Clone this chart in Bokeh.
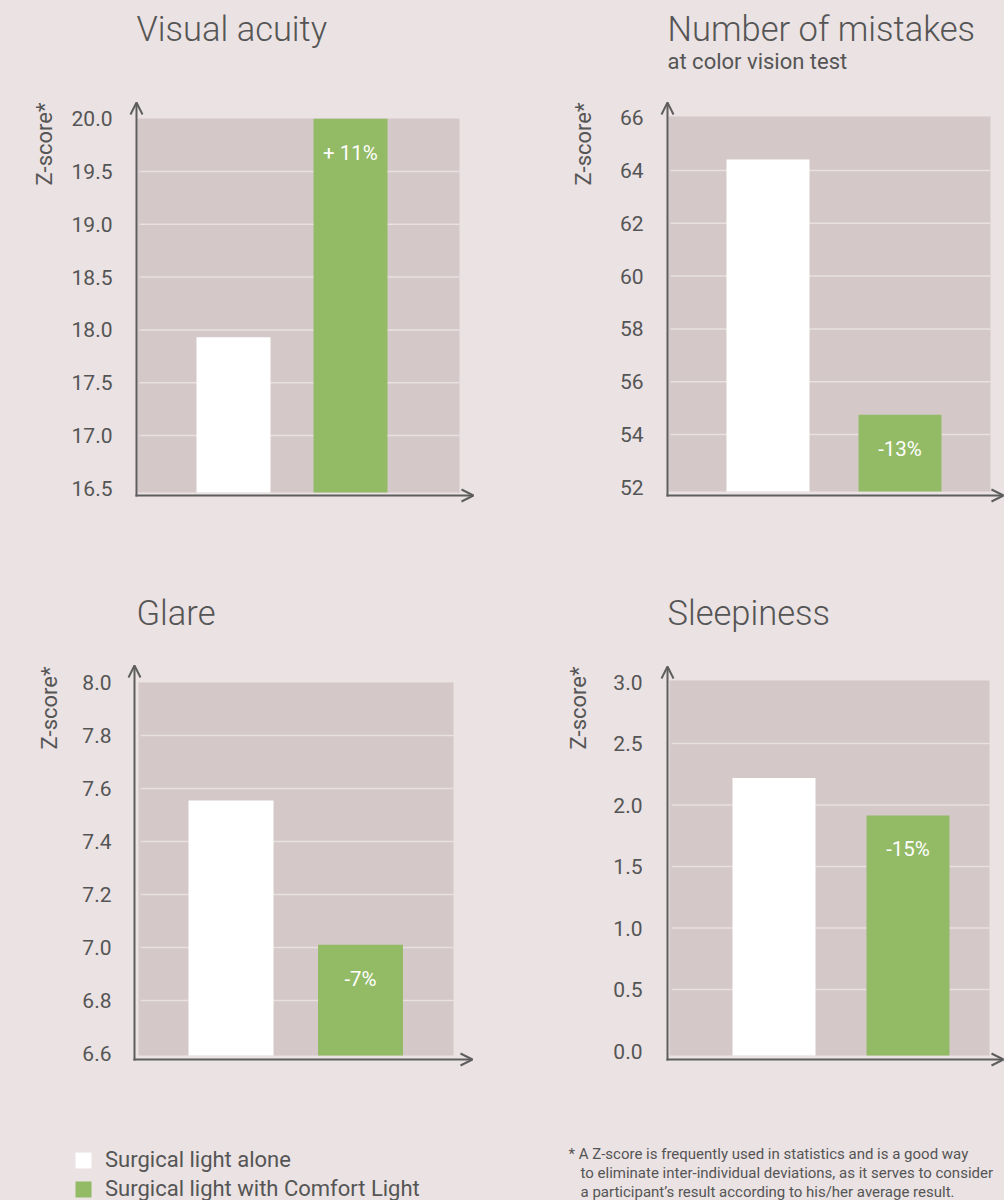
import math
from bokeh.plotting import figure
from bokeh.models import Range1d, LinearAxis, FixedTicker, Arrow, OpenHead, Legend, LegendItem
from bokeh.layouts import column, row
from bokeh.core.properties import value
from bokeh.embed import file_html
from bokeh.resources import INLINE

# ---------------- data ----------------
titles = ["Visual acuity", "Number of mistakes", "Glare", "Sleepiness"]
subtitles = ["", "at color vision test", "", ""]
series_names = ["Surgical light alone", "Surgical light with Comfort Light"]
group_pos = [1, 2]
alone = [17.93, 64.42, 7.555, 2.22]
comfort = [20.0, 54.75, 7.01, 1.915]
change_labels = ["+ 11%", "-13%", "-7%", "-15%"]

ticks_visual = [16.5, 17.0, 17.5, 18.0, 18.5, 19.0, 19.5, 20.0]
labels_visual = ["16.5", "17.0", "17.5", "18.0", "18.5", "19.0", "19.5", "20.0"]
ticks_mistakes = [52, 54, 56, 58, 60, 62, 64, 66]
labels_mistakes = ["52", "54", "56", "58", "60", "62", "64", "66"]
ticks_glare = [6.6, 6.8, 7.0, 7.2, 7.4, 7.6, 7.8, 8.0]
labels_glare = ["6.6", "6.8", "7.0", "7.2", "7.4", "7.6", "7.8", "8.0"]
ticks_sleep = [0.0, 0.5, 1.0, 1.5, 2.0, 2.5, 3.0]
labels_sleep = ["0.0", "0.5", "1.0", "1.5", "2.0", "2.5", "3.0"]
all_ticks = [ticks_visual, ticks_mistakes, ticks_glare, ticks_sleep]
all_labels = [labels_visual, labels_mistakes, labels_glare, labels_sleep]

y_label = "Z-score*"
footnote_lines = [
    "* A Z-score is frequently used in statistics and is a good way",
    "to eliminate inter-individual deviations, as it serves to consider",
    "a participant\u2019s result according to his/her average result.",
]

# ---------------- style / layout (page pixels) ----------------
BG = "#EAE2E3"
PLOT_BG = "#D4C8C9"
GRID = "#E8E0E1"
GREEN = "#93BA65"
TEXT = "#555555"
AXIS = "#5E5E5E"
FONT = "Roboto"
TITLE_FONT = "Roboto Light, Roboto"

LAYOUT = [
    dict(fig=(0, 0, 500, 540), cats=(233, 350), bar_px=74, yref=((17.0, 435), (19.5, 171)),
         area=(137, 459, 118, 492), axis_x=136, axis_y=495, tip_y=102, tip_x=473,
         title=(136, 28.5), sub=None, zlab=(44, 102), standoff=24),
    dict(fig=(500, 0, 504, 540), cats=(767.5, 899.5), bar_px=83, yref=((54, 434), (64, 170)),
         area=(668, 990, 116, 491), axis_x=667, axis_y=495, tip_y=102, tip_x=1003,
         title=(667, 28.5), sub=(667, 61), zlab=(583, 102), standoff=24),
    dict(fig=(0, 540, 500, 660), cats=(230.5, 360), bar_px=85, yref=((6.8, 1000), (7.8, 735)),
         area=(138, 453, 682, 1055), axis_x=134, axis_y=1059, tip_y=665, tip_x=472,
         title=(136, 612.5), sub=None, zlab=(49, 666), standoff=23),
    dict(fig=(500, 540, 504, 660), cats=(773.5, 907.5), bar_px=83, yref=((0.5, 989), (2.5, 743)),
         area=(669, 989, 680, 1055), axis_x=667, axis_y=1059, tip_y=666, tip_x=1003,
         title=(667, 612.5), sub=None, zlab=(578, 666), standoff=25),
]


def make_chart(i):
    cfg = LAYOUT[i]
    L, T, W, H = cfg["fig"]
    c1, c2 = cfg["cats"]
    k = (c2 - c1) / (group_pos[1] - group_pos[0])
    xs = group_pos[0] - (c1 - L) / k
    xe = xs + W / k
    (va, pa), (vb, pb) = cfg["yref"]
    m = (pa - pb) / (vb - va)
    ye = va + (pa - T) / m
    ys = ye - H / m

    def X(px):
        return xs + (px - L) / k

    def Y(py):
        return ye - (py - T) / m

    p = figure(width=W, height=H, x_range=Range1d(xs, xe), y_range=Range1d(ys, ye),
               x_axis_type=None, y_axis_type=None, toolbar_location=None,
               output_backend="svg", min_border=0, background_fill_color=BG,
               border_fill_color=BG, outline_line_color=None)

    al, ar, at, ab = cfg["area"]
    floor = Y(ab)
    p.quad(left=[X(al)], right=[X(ar)], bottom=[floor], top=[Y(at)],
           fill_color=PLOT_BG, line_color=None)

    ticks = all_ticks[i]
    inner = ticks[1:-1]
    n = len(inner)
    p.segment(x0=[X(al + 2)] * n, x1=[X(ar)] * n, y0=inner, y1=inner,
              line_color=GRID, line_width=1.5)

    r_alone = p.vbar(x=[group_pos[0]], top=[alone[i]], bottom=floor, width=cfg["bar_px"] / k,
                     fill_color="white", line_color=None)
    r_comf = p.vbar(x=[group_pos[1]], top=[comfort[i]], bottom=floor, width=cfg["bar_px"] / k,
                    fill_color=GREEN, line_color=None)

    p.text(x=[group_pos[1]], y=[comfort[i] - 34 / m], text=[change_labels[i]],
           text_align="center", text_baseline="middle", text_color="white",
           text_font=value(FONT), text_font_size="20.5px")

    tx, ty = cfg["title"]
    p.text(x=[X(tx)], y=[Y(ty)], text=[titles[i]], text_align="left",
           text_baseline="middle", text_color=TEXT, text_font=value(TITLE_FONT),
           text_font_size="34.5px")
    if cfg["sub"] is not None:
        sx, sy = cfg["sub"]
        p.text(x=[X(sx)], y=[Y(sy)], text=[subtitles[i]], text_align="left",
               text_baseline="middle", text_color=TEXT, text_font=value(FONT),
               text_font_size="22px")

    zx, zy = cfg["zlab"]
    p.text(x=[X(zx)], y=[Y(zy)], text=[y_label], angle=math.pi / 2, text_align="right",
           text_baseline="middle", text_color=TEXT, text_font=value(FONT),
           text_font_size="22px")

    ax = LinearAxis(ticker=FixedTicker(ticks=ticks), fixed_location=X(cfg["axis_x"]),
                    axis_line_color=None, major_tick_line_color=None,
                    minor_tick_line_color=None, major_tick_out=0, major_tick_in=0,
                    minor_tick_out=0, minor_tick_in=0,
                    major_label_standoff=cfg["standoff"],
                    major_label_text_font=FONT, major_label_text_font_size="21px",
                    major_label_text_color=TEXT,
                    major_label_overrides={t: s for t, s in zip(ticks, all_labels[i])})
    p.add_layout(ax, "left")

    axx, axy = cfg["axis_x"], cfg["axis_y"]
    p.add_layout(Arrow(end=OpenHead(size=12, line_color=AXIS, line_width=2),
                       x_start=X(axx), y_start=Y(axy + 1), x_end=X(axx), y_end=Y(cfg["tip_y"]),
                       line_color=AXIS, line_width=2))
    p.add_layout(Arrow(end=OpenHead(size=12, line_color=AXIS, line_width=2),
                       x_start=X(axx - 1), y_start=Y(axy), x_end=X(cfg["tip_x"]), y_end=Y(axy),
                       line_color=AXIS, line_width=2))
    return p, (r_alone, r_comf), X, Y


charts = [make_chart(i) for i in range(4)]

# legend in bottom-left chart
p3, (ra, rc), X3, Y3 = charts[2]
legend = Legend(items=[LegendItem(label=series_names[0], renderers=[ra]),
                       LegendItem(label=series_names[1], renderers=[rc])],
                location=(73, -1), orientation="vertical", glyph_width=20, glyph_height=20,
                label_standoff=12, spacing=4, padding=0, margin=0,
                border_line_color=None, background_fill_alpha=0,
                label_text_font=FONT, label_text_font_size="22px", label_text_color=TEXT)
p3.add_layout(legend)

# footnote in bottom-right chart
p4, _, X4, Y4 = charts[3]
foot_pos = [(568, 1153), (580, 1172), (580, 1191)]
for (fx, fy), line in zip(foot_pos, footnote_lines):
    p4.text(x=[X4(fx)], y=[Y4(fy)], text=[line], text_align="left",
            text_baseline="middle", text_color=TEXT, text_font=value(FONT),
            text_font_size="15px")

layout = column(row(charts[0][0], charts[1][0]), row(charts[2][0], charts[3][0]))

html = file_html(layout, INLINE)
html = html.replace("<head>", "<head><style>html, body {background-color: %s;}</style>" % BG, 1)
open("out.html", "w").write(html)
